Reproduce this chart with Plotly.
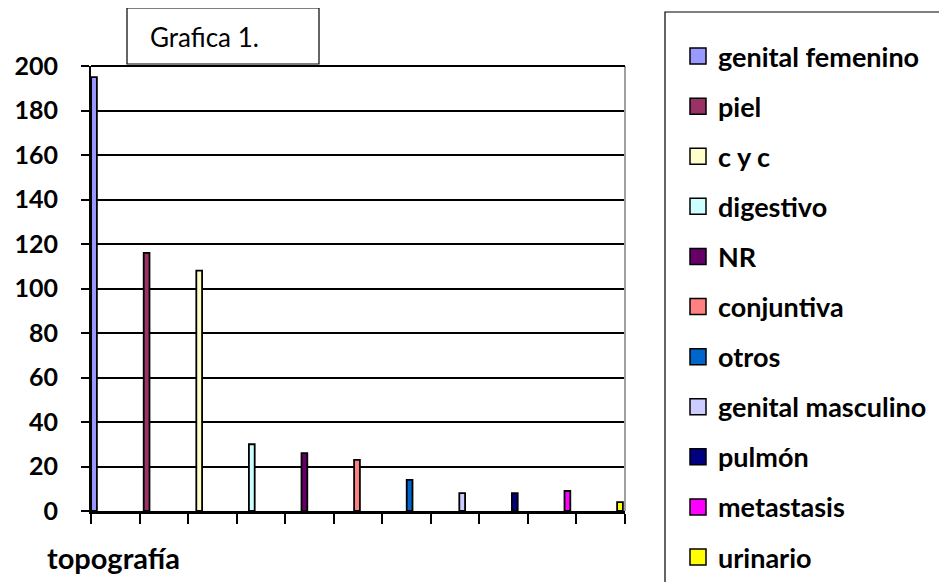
import plotly.graph_objects as go

categories = ["genital femenino", "piel", "c y c", "digestivo", "NR", "conjuntiva",
              "otros", "genital masculino", "pulmón", "metastasis", "urinario"]
values = [195, 116, 108, 30, 26, 23, 14, 8, 8, 9, 4]
colors = ["#9999FF", "#993366", "#FFFFCC", "#CCFFFF", "#660066", "#FF8080",
          "#0066CC", "#CCCCFF", "#000080", "#FF00FF", "#FFFF00"]
y_ticks = [0, 20, 40, 60, 80, 100, 120, 140, 160, 180, 200]

# page body adds an 8px offset, so the figure is laid out 8px up/left
OFF = 8
W, H = 947 - OFF, 582 - OFF
L, R, T, B = 91 - OFF, 625 - OFF, 66 - OFF, 511 - OFF
pw, ph = R - L, B - T

def px(x):
    return (x - OFF - L) / pw

def py(y):
    return (B - (y - OFF)) / ph

FONT = "Lato, 'Liberation Sans', Arial, sans-serif"

fig = go.Figure()
for i, (cat, val, col) in enumerate(zip(categories, values, colors)):
    fig.add_trace(go.Bar(
        x=[i], y=[val], name=cat, legendgroup=cat, showlegend=False,
        marker=dict(color=col, line=dict(color="black", width=1.8)),
        width=0.11, xaxis="x", yaxis="y",
    ))
    # legend entry with a larger square swatch
    fig.add_trace(go.Scatter(
        x=[None], y=[None], mode="markers", name=cat, legendgroup=cat,
        marker=dict(symbol="square", size=16, color=col,
                    line=dict(color="black", width=1.5)),
        xaxis="x", yaxis="y",
    ))

# helper axis for the evenly spaced tick marks along the bottom
fig.add_trace(go.Scatter(x=[0, len(categories)], y=[0, 0], mode="markers",
                         marker=dict(opacity=0), xaxis="x2", yaxis="y",
                         showlegend=False, hoverinfo="skip"))

fig.update_layout(
    width=W, height=H,
    margin=dict(l=L, r=W - R, t=T, b=H - B, autoexpand=False),
    paper_bgcolor="white", plot_bgcolor="white",
    barmode="overlay",
    showlegend=True,
    font=dict(family=FONT, color="black"),
    xaxis=dict(range=[-0.057, 10.095], showticklabels=False, ticks="",
               showgrid=False, zeroline=False, showline=False),
    xaxis2=dict(range=[0, len(categories)], overlaying="x", side="bottom",
                tickmode="linear", dtick=1, tick0=0, ticks="outside",
                ticklen=10, tickwidth=1.5, tickcolor="black",
                showticklabels=False, showgrid=False, zeroline=False,
                showline=True, linecolor="black", linewidth=3),
    yaxis=dict(range=[0, 200], tickvals=y_ticks, ticks="outside", ticklen=8,
               tickwidth=1.5, tickcolor="black",
               showgrid=True, gridcolor="black", gridwidth=2,
               zeroline=False, showline=True, linecolor="black", linewidth=2,
               tickfont=dict(family=FONT, size=25, color="black", weight="bold"),
               ticklabelstandoff=18),
    legend=dict(xref="container", yref="container", x=670 / W, y=1 - 24 / H,
                xanchor="left", yanchor="top", bgcolor="rgba(0,0,0,0)",
                borderwidth=0, tracegroupgap=12, maxheight=2000,
                itemsizing="trace",
                font=dict(family=FONT, size=27, color="black", weight="bold")),
    shapes=[
        dict(type="line", xref="paper", yref="paper", x0=1, x1=1, y0=0, y1=1,
             line=dict(color="#a0a0a0", width=2)),
        dict(type="line", xref="paper", yref="paper", x0=0, x1=1, y0=1, y1=1,
             line=dict(color="black", width=2)),
        dict(type="rect", xref="paper", yref="paper", x0=px(127), x1=px(319),
             y0=py(64), y1=py(8), line=dict(color="black", width=1.2),
             fillcolor="white"),
        dict(type="rect", xref="paper", yref="paper", x0=px(665), x1=px(990),
             y0=py(620), y1=py(12), line=dict(color="black", width=1.2),
             fillcolor="rgba(0,0,0,0)"),
    ],
    annotations=[
        dict(text="Grafica 1.", xref="paper", yref="paper", x=px(148), y=py(37),
             xanchor="left", yanchor="middle", showarrow=False,
             font=dict(family=FONT, size=26, color="black")),
        dict(text="topografía", xref="paper", yref="paper", x=px(45), y=py(557),
             xanchor="left", yanchor="middle", showarrow=False,
             font=dict(family=FONT, size=29, color="black", weight="bold")),
    ],
)

fig.write_html("out.html")
